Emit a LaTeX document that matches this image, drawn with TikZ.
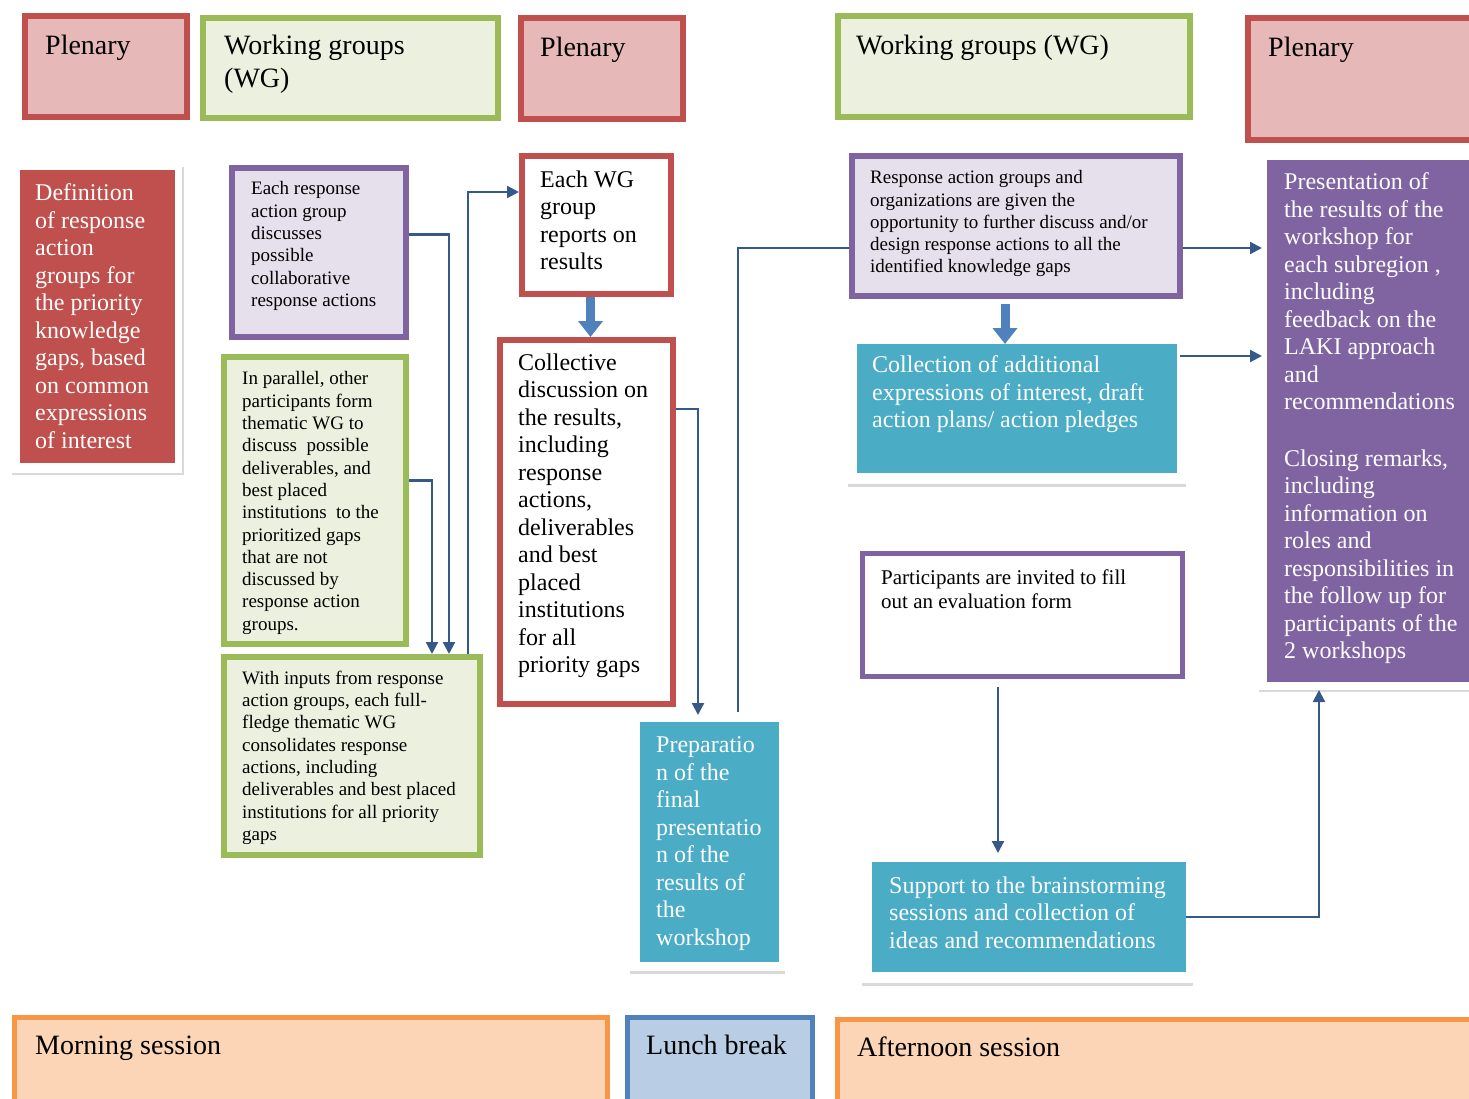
\documentclass[tikz,border=0pt]{standalone}
\usepackage{fontspec}
\setmainfont{Liberation Serif}
\usetikzlibrary{arrows.meta,shadows}
\definecolor{redline}{HTML}{C0504D}
\definecolor{redfill}{HTML}{E6B9B8}
\definecolor{grnline}{HTML}{9BBB59}
\definecolor{grnfill}{HTML}{EBF1DE}
\definecolor{purline}{HTML}{8064A2}
\definecolor{purfill}{HTML}{E5E0EC}
\definecolor{tealfill}{HTML}{4BACC6}
\definecolor{orgline}{HTML}{F79646}
\definecolor{orgfill}{HTML}{FBD5B5}
\definecolor{bluline}{HTML}{4F81BD}
\definecolor{blufill}{HTML}{B9CDE5}
\definecolor{linkblue}{HTML}{34598A}
\definecolor{rulegray}{HTML}{D9D9D9}
\tikzset{
  blk/.style={rectangle, anchor=north west, inner sep=0pt, line width=6pt},
  plen/.style={blk, draw=redline, fill=redfill},
  rbox/.style={blk, draw=redline, fill=white},
  gbox/.style={blk, draw=grnline, fill=grnfill},
  pbox/.style={blk, draw=purline, fill=purfill},
  tbox/.style={blk, line width=0pt, fill=tealfill},
  card/.style={blk, line width=0pt, fill=white,
    drop shadow={opacity=0.3, shadow xshift=1.5pt, shadow yshift=-2pt}},
  sess/.style={blk, line width=5pt, draw=orgline, fill=orgfill},
  txt/.style={anchor=north west, inner sep=0pt, align=left, execute at begin node=\strut},
  big/.style={txt, font=\fontsize{28}{33}\selectfont},
  mid/.style={txt, font=\fontsize{24}{27.5}\selectfont},
  sml/.style={txt, font=\fontsize{19}{22.3}\selectfont},
  link/.style={draw=linkblue, line width=2.2pt, -{Triangle[length=12pt,width=12pt]}},
  fat/.style={draw=bluline, line width=9pt, -{Triangle[length=16pt,width=24pt]}},
  rule/.style={draw=rulegray, line width=3pt}
}
\begin{document}
\begin{tikzpicture}[x=1pt, y=-1pt]
  \useasboundingbox (0,0) rectangle (1469,1099);
  \clip (0,0) rectangle (1469,1099);

  \node[plen, minimum width=162pt, minimum height=101pt] (pl1) at (22,13) {};
  \node[gbox, minimum width=295pt, minimum height=100pt] (wg1) at (200,15) {};
  \node[plen, minimum width=162pt, minimum height=101pt] (pl2) at (518,15) {};
  \node[gbox, minimum width=352pt, minimum height=101pt] (wg2) at (835,13) {};
  \node[plen, minimum width=229pt, minimum height=122pt] (pl3) at (1245,15) {};
  \node[big] (pl1t) at ([shift={(23,18)}]pl1.north west) {Plenary};
  \node[big] (wg1t) at ([shift={(24,19.9)}]wg1.north west) {Working groups\\(WG)};
  \node[big] (pl2t) at ([shift={(22,17.9)}]pl2.north west) {Plenary};
  \node[big] (wg2t) at ([shift={(21,18.4)}]wg2.north west) {Working groups (WG)};
  \node[big] (pl3t) at ([shift={(23,17.9)}]pl3.north west) {Plenary};

  \node[card, minimum width=172pt, minimum height=308pt] (card1) at (10,165) {};
  \node[blk, line width=0pt, fill=redline, minimum width=155pt, minimum height=293pt] (def) at (20,170) {};
  \node[mid, text=white] (deft) at ([shift={(15,13.5)}]def.north west)
    {Definition\\of response\\action\\groups for\\the priority\\knowledge\\gaps, based\\on common\\expressions\\of interest};

  \node[pbox, minimum width=174pt, minimum height=169pt] (rag) at (229,165) {};
  \node[sml] (ragt) at ([shift={(22,16.6)}]rag.north west)
    {Each response\\action group\\discusses\\possible\\collaborative\\response actions};
  \node[gbox, minimum width=182pt, minimum height=287pt] (par) at (221,354) {};
  \node[sml] (part) at ([shift={(21,17.6)}]par.north west)
    {In parallel, other\\participants form\\thematic WG to\\discuss\ \ possible\\deliverables, and\\best placed\\institutions\ \ to the\\prioritized gaps\\that are not\\discussed by\\response action\\groups.};
  \node[gbox, minimum width=256pt, minimum height=198pt] (con) at (221,654) {};
  \node[sml] (cont) at ([shift={(21,16.8)}]con.north west)
    {With inputs from response\\action groups, each full-\\fledge thematic WG\\consolidates response\\actions, including\\deliverables and best placed\\institutions for all priority\\gaps};

  \node[rbox, minimum width=149pt, minimum height=138pt] (rep) at (519,153) {};
  \node[mid] (rept) at ([shift={(21,17.5)}]rep.north west)
    {Each WG\\group\\reports on\\results};
  \node[rbox, minimum width=173pt, minimum height=364pt] (dis) at (497,337) {};
  \node[mid] (dist) at ([shift={(21,16.5)}]dis.north west)
    {Collective\\discussion on\\the results,\\including\\response\\actions,\\deliverables\\and best\\placed\\institutions\\for all\\priority gaps};
  \node[tbox, minimum width=139pt, minimum height=240pt] (prep) at (640,722) {};
  \node[mid, text=white] (prept) at ([shift={(16,14.5)}]prep.north west)
    {Preparatio\\n of the\\final\\presentatio\\n of the\\results of\\the\\workshop};

  \node[pbox, minimum width=328pt, minimum height=140pt] (org) at (849,153) {};
  \node[sml] (orgt) at ([shift={(21,17.4)}]org.north west)
    {Response action groups and\\organizations are given the\\opportunity to further discuss and/or\\design response actions to all the\\identified knowledge gaps};
  \node[tbox, minimum width=320pt, minimum height=129pt] (add) at (857,344) {};
  \node[mid, text=white] (addt) at ([shift={(15,11.8)}]add.north west)
    {Collection of additional\\expressions of interest, draft\\action plans/ action pledges};
  \node[blk, line width=5pt, draw=purline, fill=white, minimum width=320pt, minimum height=123pt] (eval) at (860,551) {};
  \node[txt, font=\fontsize{21}{24}\selectfont] (evalt) at ([shift={(21,18.2)}]eval.north west)
    {Participants are invited to fill\\out an evaluation form};
  \node[tbox, minimum width=314pt, minimum height=110pt] (sup) at (872,862) {};
  \node[mid, text=white] (supt) at ([shift={(17,14.5)}]sup.north west)
    {Support to the brainstorming\\sessions and collection of\\ideas and recommendations};

  \node[card, minimum width=223pt, minimum height=537pt] (card2) at (1257,153) {};
  \node[blk, line width=0pt, fill=purline, minimum width=213pt, minimum height=522pt] (pres) at (1267,160) {};
  \node[mid, text=white] (prest) at ([shift={(17,12.5)}]pres.north west)
    {Presentation of\\the results of the\\workshop for\\each subregion ,\\including\\feedback on the\\LAKI approach\\and\\recommendations\\[29pt]Closing remarks,\\including\\information on\\roles and\\responsibilities in\\the follow up for\\participants of the\\2 workshops};

  \node[sess, minimum width=593pt, minimum height=100pt] (am) at (12,1015) {};
  \node[blk, line width=5pt, draw=bluline, fill=blufill, minimum width=185pt, minimum height=100pt] (lunch) at (625,1015) {};
  \node[sess, minimum width=640pt, minimum height=100pt] (pm) at (835,1017) {};
  \node[big] (amt) at ([shift={(23,15.9)}]am.north west) {Morning session};
  \node[big] (luncht) at ([shift={(21,15.9)}]lunch.north west) {Lunch break};
  \node[big] (pmt) at ([shift={(22,15.9)}]pm.north west) {Afternoon session};

  \draw[link] ([yshift=18pt]rag.east) -| ([xshift=-34pt]con.north east);
  \draw[link] ([yshift=20pt]par.east) -| ([xshift=-51pt]con.north east);
  \draw[link] ([xshift=-15pt]con.north east) |- ([yshift=33pt]rep.west);
  \draw[fat] ([xshift=-6pt]rep.south) -- ([xshift=-6pt]rep.south |- dis.north);
  \draw[link, shorten >=7pt] ([yshift=113pt]dis.east) -| ([xshift=-11.5pt]prep.north);
  \draw[draw=linkblue, line width=2.2pt, shorten <=10pt] ([xshift=28.5pt]prep.north) |- ([yshift=-22pt]org.west);
  \draw[fat, shorten <=5pt] ([xshift=-11pt]org.south) -- ([xshift=-11pt]org.south |- add.north);
  \draw[link, shorten >=5pt] ([yshift=-22pt]org.east) -- ([yshift=-22pt]org.east -| pres.west);
  \draw[link, shorten <=3pt, shorten >=5pt] ([yshift=52.5pt]add.east) -- ([yshift=52.5pt]add.east -| pres.west);
  \draw[link, shorten <=8pt, shorten >=9pt] ([xshift=-24.5pt]eval.south) -- ([xshift=-24.5pt]eval.south |- sup.north);
  \draw[link] (sup.east) -| ([xshift=-49.5pt]card2.south);

  \draw[rule] ([shift={(-10,10)}]prep.south west) -- ([shift={(6,10)}]prep.south east);
  \draw[rule] ([shift={(-9,12)}]add.south west) -- ([shift={(9,12)}]add.south east);
  \draw[rule] ([shift={(-10,12)}]sup.south west) -- ([shift={(7,12)}]sup.south east);
\end{tikzpicture}
\end{document}
